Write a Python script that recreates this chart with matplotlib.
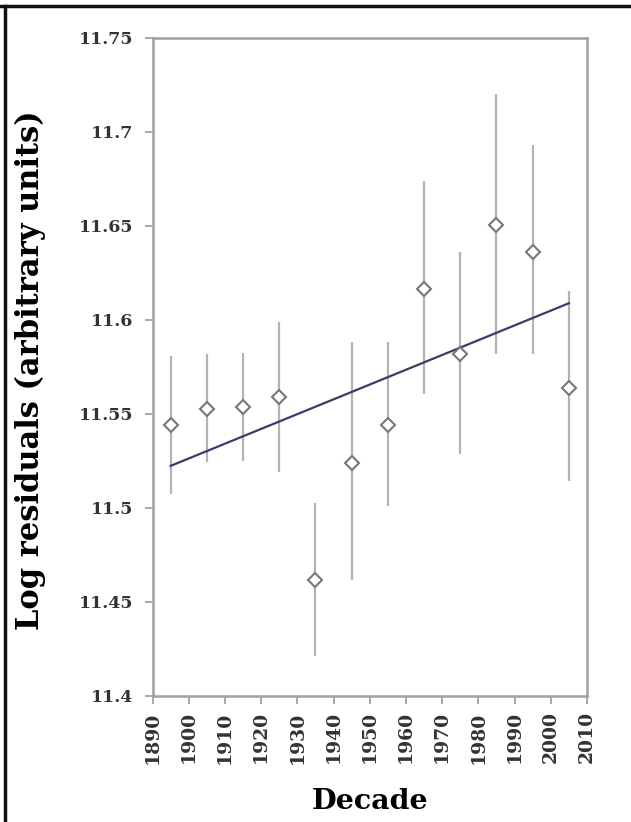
import matplotlib
matplotlib.use("Agg")
import matplotlib.pyplot as plt
import numpy as np
from matplotlib.lines import Line2D

# decade midpoints and log residual means with error bar extents
decades = [1895, 1905, 1915, 1925, 1935, 1945, 1955, 1965, 1975, 1985, 1995, 2005]
means = [11.544, 11.5525, 11.5534, 11.559, 11.4615, 11.524,
         11.544, 11.6164, 11.5817, 11.6506, 11.6358, 11.564]
upper = [11.581, 11.582, 11.5826, 11.599, 11.5028, 11.588,
         11.588, 11.674, 11.636, 11.720, 11.6927, 11.6155]
lower = [11.5076, 11.5245, 11.525, 11.519, 11.4212, 11.4615,
         11.501, 11.5606, 11.5286, 11.5817, 11.5817, 11.5144]

x_ticks = list(range(1890, 2011, 10))
y_ticks = [11.4, 11.45, 11.5, 11.55, 11.6, 11.65, 11.7, 11.75]
y_tick_labels = ["11.4", "11.45", "11.5", "11.55", "11.6", "11.65", "11.7", "11.75"]

fig = plt.figure(figsize=(6.31, 8.22), dpi=100)
ax = fig.add_axes([0.2417, 0.1533, 0.6886, 0.8009])

x = np.array(decades)
y = np.array(means)
ax.vlines(x, lower, upper, color="#b3b3b3", linewidth=1.6, zorder=1)

slope, icpt = np.polyfit(x, y, 1)
fit_x = np.array([x.min(), x.max()])
ax.plot(fit_x, slope * fit_x + icpt, color="#3b3b6b", linewidth=1.6, zorder=2)

ax.plot(x, y, linestyle="none", marker="D", markersize=7.5,
        markerfacecolor="white", markeredgecolor="#777777",
        markeredgewidth=1.5, zorder=3)

ax.set_xlim(1890, 2010)
ax.set_ylim(11.4, 11.75)
ax.set_xticks(x_ticks)
ax.set_xticklabels([str(t) for t in x_ticks], rotation=90,
                   family="DejaVu Serif", fontsize=13.5, fontweight="semibold")
ax.set_yticks(y_ticks)
ax.set_yticklabels(y_tick_labels, family="DejaVu Serif", fontsize=12.5,
                   fontweight="semibold")
ax.tick_params(direction="out", length=6, width=1.2, color="#999999",
               labelcolor="#333333")
ax.tick_params(axis="x", pad=5)
ax.tick_params(axis="y", pad=8)
for s in ax.spines.values():
    s.set_color("#a0a0a0")
    s.set_linewidth(1.8)

ax.set_xlabel("Decade", family="DejaVu Serif", fontweight="bold", fontsize=20.5)
ax.xaxis.set_label_coords(0.5, -0.14)
ax.set_ylabel("Log residuals (arbitrary units)", family="DejaVu Serif",
              fontweight="bold", fontsize=22)
ax.yaxis.set_label_coords(-0.245, 0.495)

# black frame along top and left edges of the picture
fig.lines.append(Line2D([0, 1], [0.9927, 0.9927], transform=fig.transFigure,
                        color="#111111", linewidth=2.5))
fig.lines.append(Line2D([0.0085, 0.0085], [0, 0.9927], transform=fig.transFigure,
                        color="#111111", linewidth=2.5))

fig.savefig("out.png", dpi=100)
